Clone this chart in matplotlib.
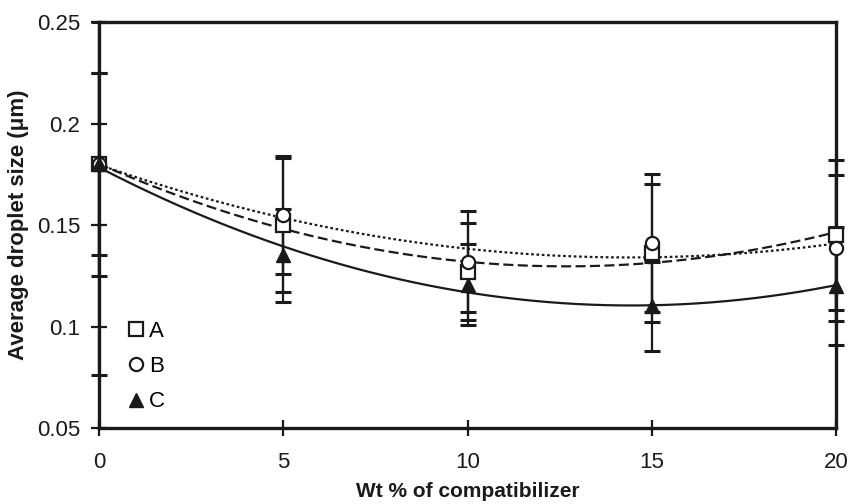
import numpy as np
import matplotlib
matplotlib.use("Agg")
import matplotlib.pyplot as plt
from matplotlib.ticker import FuncFormatter

plt.rcParams['font.family'] = ['Liberation Sans', 'DejaVu Sans']

wt = [0, 5, 10, 15, 20]
a_vals = [0.180, 0.150, 0.127, 0.136, 0.145]
a_err_lo = [0.055, 0.033, 0.024, 0.034, 0.037]
a_err_hi = [0.045, 0.033, 0.024, 0.034, 0.037]
b_vals = [0.180, 0.155, 0.132, 0.141, 0.1385]
b_err = [0.045, 0.029, 0.025, 0.034, 0.036]
c_vals = [0.180, 0.135, 0.1205, 0.110, 0.120]
c_err_lo = [0.104, 0.023, 0.020, 0.022, 0.029]
c_err_hi = [0.070, 0.023, 0.020, 0.022, 0.029]
labels = ["A", "B", "C"]

fig = plt.figure(figsize=(8.5, 5.04), dpi=100)
ax = fig.add_axes([0.1165, 0.1508, 0.867, 0.8055])

xs = np.linspace(0, 20, 300)
# quadratic trendlines (like spreadsheet polynomial trendlines)
for vals, ls, lw in [(a_vals, (0, (4.5, 2)), 1.6), (b_vals, (0, (1.2, 1.2)), 1.6), (c_vals, '-', 1.6)]:
    coef = np.polyfit(wt, vals, 2)
    ax.plot(xs, np.polyval(coef, xs), color='#1a1a1a', ls=ls, lw=lw, zorder=2)

ekw = dict(fmt='none', ecolor='#1a1a1a', elinewidth=1.6, capsize=6, capthick=2.2, zorder=3)
for vals, err in [(a_vals, [a_err_lo, a_err_hi]), (b_vals, b_err), (c_vals, [c_err_lo, c_err_hi])]:
    eb = ax.errorbar(wt, vals, yerr=err, **ekw)
    for art in eb.lines[1] + eb.lines[2]:
        art.set_clip_on(False)

ax.plot(wt, a_vals, ls='none', marker='s', ms=9.5, mfc='white', mec='#1a1a1a', mew=1.6, zorder=4, label=labels[0], clip_on=False)
ax.plot(wt, b_vals, ls='none', marker='o', ms=9.5, mfc='white', mec='#1a1a1a', mew=1.6, zorder=4, label=labels[1], clip_on=False)
ax.plot(wt, c_vals, ls='none', marker='^', ms=10.5, mfc='#1a1a1a', mec='#1a1a1a', mew=1.0, zorder=5, label=labels[2], clip_on=False)

ax.set_xlim(0, 20)
ax.set_ylim(0.05, 0.25)
ax.set_xticks([0, 5, 10, 15, 20])
ax.set_yticks([0.05, 0.10, 0.15, 0.20, 0.25])
ax.yaxis.set_major_formatter(FuncFormatter(lambda v, p: ('%.2f' % v).rstrip('0')))

for s in ax.spines.values():
    s.set_linewidth(2.4)
    s.set_color('#1a1a1a')
ax.tick_params(direction='inout', length=11, width=1.6, colors='#1a1a1a',
               labelsize=16, labelcolor='#1a1a1a', pad=8)
ax.tick_params(axis='x', pad=12)

ax.set_xlabel('Wt % of compatibilizer', fontsize=15, fontweight='bold', color='#1a1a1a', labelpad=6)
ax.set_ylabel('Average droplet size (\u03bcm)', fontsize=16, fontweight='bold', color='#1a1a1a', labelpad=6)

leg = ax.legend(loc='lower left', bbox_to_anchor=(0.02, 0.0), frameon=False, fontsize=16,
                handlelength=0.6, handletextpad=0.3, labelspacing=0.65, borderpad=0.2)

fig.savefig('out.png', dpi=100)
